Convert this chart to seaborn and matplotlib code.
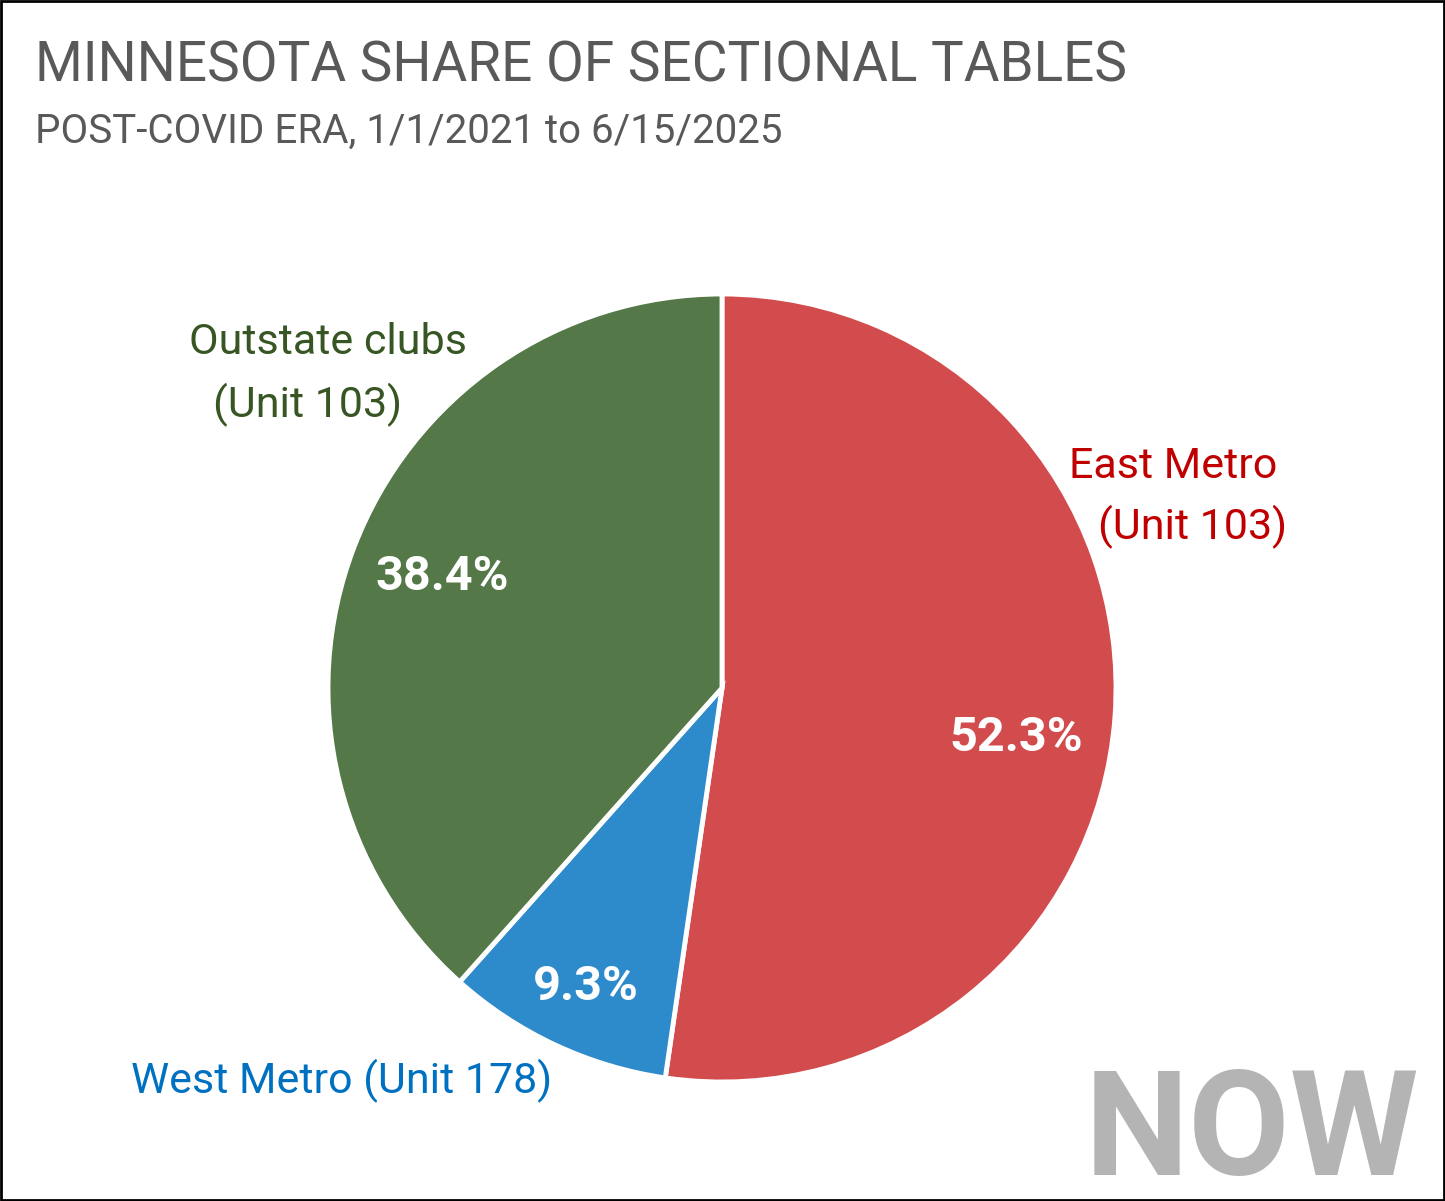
import matplotlib
matplotlib.use("Agg")
import matplotlib.pyplot as plt
import seaborn as sns

# data
regions = ["East Metro", "West Metro", "Outstate clubs"]
units = ["(Unit 103)", "(Unit 178)", "(Unit 103)"]
shares = [52.3, 9.3, 38.4]

slice_colors = ["#d24b4d", "#2e8bcb", "#557848"]
label_colors = ["#c00000", "#0070c0", "#375623"]

sns.set_theme(style="white")
plt.rcParams["font.family"] = ["Roboto", "DejaVu Sans"]

fig = plt.figure(figsize=(14.45, 12.01), dpi=100)
fig.patch.set_facecolor("white")

# outer black frame
fig.add_artist(plt.Rectangle((0.001, 0.001), 0.998, 0.998, transform=fig.transFigure,
                             fill=False, edgecolor="black", linewidth=2))

fig.text(0.024, 0.945, "MINNESOTA SHARE OF SECTIONAL TABLES", fontsize=39.5,
         color="#595959", va="center", ha="left")
fig.text(0.024, 0.891, "POST-COVID ERA, 1/1/2021 to 6/15/2025", fontsize=29,
         color="#595959", va="center", ha="left")

# pie axes: centre (722, 688) px, radius 394 px
W, H = 1445, 1201
cx, cy, r = 722, 688, 394
ax = fig.add_axes([(cx - r) / W, (H - cy - r) / H, 2 * r / W, 2 * r / H])
wedges, _ = ax.pie(shares, colors=slice_colors, startangle=90, counterclock=False,
                   wedgeprops=dict(edgecolor="white", linewidth=3.5))
ax.set_xlim(-1, 1)
ax.set_ylim(-1, 1)
ax.set_aspect("equal")
ax.axis("off")


def px(x, y):
    return ((x - cx) / r, (cy - y) / r)


# percentage labels (placed like the original chart)
pct_pos = [px(1016, 738), px(586, 987), px(442, 577)]
for v, (x, y) in zip(shares, pct_pos):
    ax.text(x, y, f"{v:.1f}%", color="white", fontsize=35, fontweight="bold",
            ha="center", va="center")

# category labels
lab = dict(fontsize=31, ha="center", va="center", clip_on=False)
ax.text(*px(1173, 466), regions[0], color=label_colors[0], **lab)
ax.text(*px(1193, 527), units[0], color=label_colors[0], **lab)
ax.text(*px(342, 1081), f"{regions[1]} {units[1]}", color=label_colors[1], **lab)
ax.text(*px(328, 342), regions[2], color=label_colors[2], **lab)
ax.text(*px(308, 405), units[2], color=label_colors[2], **lab)

fig.text(0.982, 26 / 1201, "NOW", fontsize=106, fontweight="bold", color="#b4b4b4",
         ha="right", va="baseline")

fig.savefig("out.png", dpi=100, facecolor="white")
